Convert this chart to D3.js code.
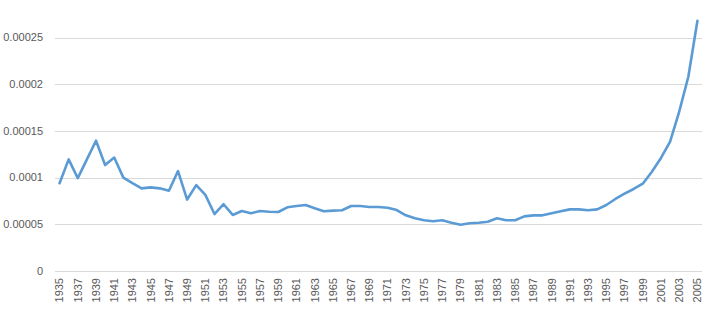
<!DOCTYPE html>
<html>
<head>
<meta charset="utf-8">
<script src="https://cdn.jsdelivr.net/npm/d3@7"></script>
<style>
  body { margin: 0; background: #fff; }
  svg { display: block; font-family: 'Liberation Sans', Arial, sans-serif; }
</style>
</head>
<body>
<svg id="chart" width="712" height="310"></svg>
<script>
const years = d3.range(1935, 2006);

const values = [
  0.0000940, 0.0001195, 0.0000995, 0.0001195, 0.0001395, 0.0001135, 0.0001215, 0.0001000,
  0.0000940, 0.0000885, 0.0000895, 0.0000885, 0.0000860, 0.0001070, 0.0000765, 0.0000920,
  0.0000815, 0.0000610, 0.0000715, 0.0000600, 0.0000642, 0.0000618, 0.0000642, 0.0000635,
  0.0000632, 0.0000682, 0.0000696, 0.0000707, 0.0000671, 0.0000639, 0.0000646, 0.0000650,
  0.0000696, 0.0000696, 0.0000685, 0.0000685, 0.0000678, 0.0000653, 0.0000596, 0.0000564,
  0.0000543, 0.0000532, 0.0000543, 0.0000517, 0.0000496, 0.0000512, 0.0000517, 0.0000528,
  0.0000564, 0.0000543, 0.0000543, 0.0000585, 0.0000596, 0.0000596, 0.0000618, 0.0000639,
  0.0000660, 0.0000660, 0.0000650, 0.0000660, 0.0000707, 0.0000771, 0.0000828, 0.0000878,
  0.0000935, 0.0001063, 0.0001210, 0.0001384, 0.0001706, 0.0002080, 0.0002680
];

const yTicks = [0, 0.00005, 0.0001, 0.00015, 0.0002, 0.00025];
const yTickLabels = ['0', '0.00005', '0.0001', '0.00015', '0.0002', '0.00025'];

const svg = d3.select('#chart');

const x = d3.scaleBand()
  .domain(years)
  .range([55, 702]);

const y = d3.scaleLinear()
  .domain([0, 0.00025])
  .range([271, 37.5]);

// gridlines
svg.append('g')
  .selectAll('line')
  .data(yTicks)
  .join('line')
  .attr('x1', x.range()[0])
  .attr('x2', x.range()[1])
  .attr('y1', (d) => Math.round(y(d)) + 0.5)
  .attr('y2', (d) => Math.round(y(d)) + 0.5)
  .attr('stroke', '#d9d9d9')
  .attr('stroke-width', 1);

// y labels
svg.append('g')
  .selectAll('text')
  .data(yTicks)
  .join('text')
  .attr('x', 43)
  .attr('y', (d) => y(d))
  .attr('dy', '0.35em')
  .attr('text-anchor', 'end')
  .attr('fill', '#595959')
  .attr('font-size', 11)
  .text((d, i) => yTickLabels[i]);

// x labels, every other year
svg.append('g')
  .selectAll('text')
  .data(years.filter((d) => (d - 1935) % 2 === 0))
  .join('text')
  .attr('transform', (d) => `translate(${x(d) + x.bandwidth() / 2},278)rotate(-90)`)
  .attr('dy', '0.35em')
  .attr('text-anchor', 'end')
  .attr('fill', '#595959')
  .attr('font-size', 11)
  .text((d) => d);

const line = d3.line()
  .x((d, i) => x(years[i]) + x.bandwidth() / 2)
  .y((d) => y(d));

svg.append('path')
  .datum(values)
  .attr('d', line)
  .attr('fill', 'none')
  .attr('stroke', '#5b9bd5')
  .attr('stroke-width', 2.6)
  .attr('stroke-linejoin', 'round')
  .attr('stroke-linecap', 'round');
</script>
</body>
</html>
